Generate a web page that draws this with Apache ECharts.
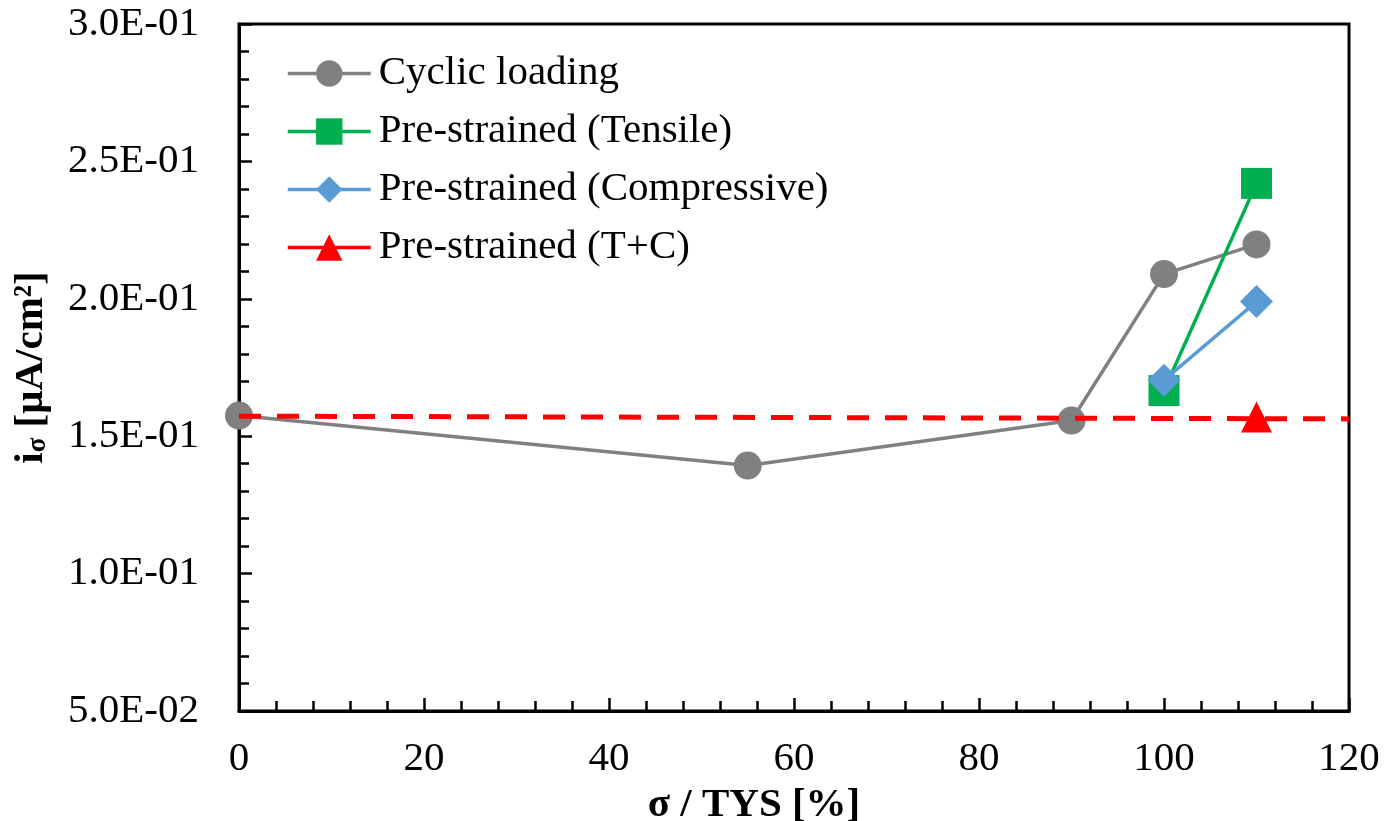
<!DOCTYPE html>
<html>
<head>
<meta charset="utf-8">
<script src="https://cdn.jsdelivr.net/npm/echarts@6.0.0/dist/echarts.min.js"></script>
<style>
  html, body { margin: 0; padding: 0; background: #fff; }
  #chart { width: 1387px; height: 821px; }
</style>
</head>
<body>
<div id="chart"></div>
<script>
// values
const stressPct = [0, 55, 90, 100, 110];
const cyclicLoading = [0.1575, 0.1393, 0.1557, 0.2090, 0.2198];
const preStrainX = [100, 110];
const tensile = [0.1666, 0.2420];
const compressive = [0.1704, 0.1990];
const tcX = [110];
const tensileCompressive = [0.1570];
const baselineX = [0, 120];
const baseline = [0.1573, 0.1563];

const FONT = '"Liberation Serif", "Times New Roman", serif';
const FS = 41;

const pairs = (xs, ys) => xs.map((x, i) => [x, ys[i]]);

function sci(v) {
  const e = Math.floor(Math.log10(v) + 1e-9);
  const m = v / Math.pow(10, e);
  return m.toFixed(1) + 'E' + (e < 0 ? '-' : '+') + String(Math.abs(e)).padStart(2, '0');
}

const chart = echarts.init(document.getElementById('chart'), null, { renderer: 'canvas' });

chart.setOption({
  animation: false,
  textStyle: { fontFamily: FONT, color: '#000' },
  grid: {
    left: 239, right: 38, top: 24, bottom: 110,
    outerBoundsMode: 'none',
    containLabel: false,
    show: true, borderColor: '#000', borderWidth: 3
  },
  legend: {
    orient: 'vertical',
    left: 286, top: 53,
    padding: 0,
    itemWidth: 83, itemHeight: 33, itemGap: 17,
    selectedMode: false,
    lineStyle: { width: 3.5 },
    textStyle: { fontFamily: FONT, fontSize: FS, color: '#000', padding: [0, 0, 0, 3] },
    data: ['Cyclic loading', 'Pre-strained (Tensile)', 'Pre-strained (Compressive)', 'Pre-strained (T+C)']
  },
  xAxis: {
    type: 'value',
    min: 0, max: 120, interval: 20,
    name: 'σ / TYS [%]',
    nameLocation: 'middle',
    nameGap: 66,
    nameTextStyle: { fontFamily: FONT, fontSize: FS, fontWeight: 'bold', color: '#000', padding: [0, 80, 0, 0] },
    axisLine: { lineStyle: { color: '#000', width: 3 } },
    axisTick: { inside: true, length: 13, lineStyle: { color: '#000', width: 2.5 } },
    minorTick: { show: true, splitNumber: 5, length: 10, lineStyle: { color: '#000', width: 2.5 } },
    splitLine: { show: false },
    axisLabel: { fontFamily: FONT, fontSize: FS, color: '#000', margin: 28 }
  },
  yAxis: {
    type: 'value',
    min: 0.05, max: 0.30, interval: 0.05,
    name: '{i|i}{s|σ} [μA/cm²]',
    nameLocation: 'middle',
    nameRotate: 90,
    nameGap: 187,
    nameTextStyle: {
      fontFamily: FONT, fontSize: FS, fontWeight: 'bold', color: '#000',
      rich: {
        i: { fontFamily: FONT, fontSize: FS, fontWeight: 'bold', color: '#000' },
        s: { fontFamily: FONT, fontSize: 27, fontWeight: 'bold', color: '#000', padding: [14, 0, 0, 0] }
      }
    },
    axisLine: { show: true, lineStyle: { color: '#000', width: 3 } },
    axisTick: { show: true, inside: true, length: 13, lineStyle: { color: '#000', width: 2.5 } },
    minorTick: { show: true, splitNumber: 5, length: 10, lineStyle: { color: '#000', width: 2.5 } },
    splitLine: { show: false },
    axisLabel: { fontFamily: FONT, fontSize: FS, color: '#000', margin: 40, formatter: sci }
  },
  series: [
    {
      name: 'Cyclic loading',
      type: 'line',
      data: pairs(stressPct, cyclicLoading),
      symbol: 'circle', symbolSize: 28,
      clip: false,
      lineStyle: { color: '#808080', width: 3.5 },
      itemStyle: { color: '#808080' }
    },
    {
      name: 'Pre-strained (Tensile)',
      type: 'line',
      data: pairs(preStrainX, tensile),
      symbol: 'rect', symbolSize: 31,
      clip: false,
      lineStyle: { color: '#00B050', width: 3.5 },
      itemStyle: { color: '#00B050' }
    },
    {
      name: 'Pre-strained (Compressive)',
      type: 'line',
      data: pairs(preStrainX, compressive),
      symbol: 'diamond', symbolSize: 33,
      clip: false,
      lineStyle: { color: '#5B9BD5', width: 3.5 },
      itemStyle: { color: '#5B9BD5' }
    },
    {
      name: 'Pre-strained (T+C)',
      type: 'line',
      data: pairs(tcX, tensileCompressive),
      symbol: 'triangle', symbolSize: 31,
      clip: false,
      lineStyle: { color: '#FF0000', width: 3.5 },
      itemStyle: { color: '#FF0000' }
    },
    {
      name: 'baseline',
      type: 'line',
      data: pairs(baselineX, baseline),
      showSymbol: false,
      z: 5,
      lineStyle: { color: '#FF0000', width: 5, type: [22, 16] }
    }
  ]
});
</script>
</body>
</html>
